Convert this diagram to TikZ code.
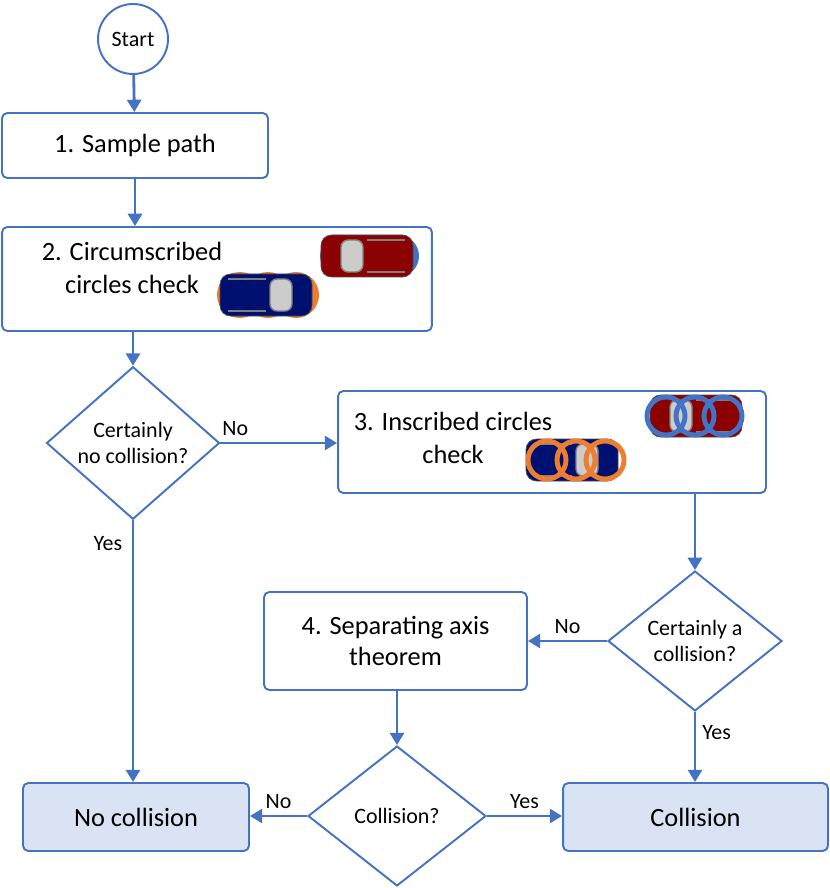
\documentclass[tikz,border=0pt]{standalone}
\usepackage{fontspec}
\setmainfont{Carlito}
\usetikzlibrary{shapes.geometric,arrows.meta}
\definecolor{flowblue}{HTML}{4472C4}
\definecolor{boxfill}{HTML}{DAE3F3}
\definecolor{carred}{HTML}{8B0000}
\definecolor{carblue}{HTML}{001070}
\definecolor{ringorange}{HTML}{ED7D31}
\tikzset{
  stage/.style={rectangle, rounded corners=3pt, draw=flowblue, line width=1.1pt, fill=white, font=\fontsize{15}{18}\selectfont},
  result/.style={stage, fill=boxfill},
  test/.style={diamond, draw=flowblue, line width=1.1pt, fill=white, inner sep=0pt, align=center, font=\fontsize{12.5}{15}\selectfont},
  flow/.style={-{Triangle[length=7pt,width=8pt]}, draw=flowblue, line width=1.6pt},
  tag/.style={font=\fontsize{12.5}{15}\selectfont}
}
% car seen from above: centre x, centre y, body colour, +1 = front right / -1 = front left
\newcommand{\carpic}[4]{
  \begin{scope}[shift={(#1,#2)}, xscale=#4]
    \fill[#3, draw=black!70, line width=0.4pt, rounded corners=6pt] (-46,-21) rectangle (46,21);
    \fill[black!20, draw=gray, line width=0.8pt, rounded corners=4pt] (4,-16) rectangle (26,16);
    \draw[gray, line width=0.8pt] (-38,-16) -- (0,-16) (-38,16) -- (0,16);
  \end{scope}
}
\begin{document}
\begin{tikzpicture}[x=0.02cm, y=-0.02cm]
\useasboundingbox (0,0) rectangle (830,888);

\node[circle, draw=flowblue, line width=1.1pt, minimum size=1.4cm, font=\fontsize{12.5}{15}\selectfont] (start) at (133,39) {Start};
\node[stage, minimum width=5.32cm, minimum height=1.3cm] (sample) at (135,145.5) {1. Sample path};
\node[stage, minimum width=8.6cm, minimum height=2.08cm] (circum) at (217,279) {};
\node[align=center, font=\fontsize{15}{19}\selectfont] (circumtxt) at (132,268) {2. Circumscribed\\circles check};
\node[test, minimum width=3.46cm, minimum height=2.78cm] (certno) at (133,443) {Certainly\\no collision?};
\node[stage, minimum width=8.56cm, minimum height=2.04cm] (inscr) at (552,442) {};
\node[align=center, font=\fontsize{15}{19}\selectfont] (inscrtxt) at (453,438) {3. Inscribed circles\\check};
\node[test, minimum width=3.48cm, minimum height=2.8cm] (certyes) at (695,641) {Certainly a\\collision?};
\node[stage, minimum width=5.26cm, minimum height=1.96cm, align=center] (sat) at (395.5,641) {4. Separating axis\\theorem};
\node[test, minimum width=3.56cm, minimum height=2.8cm] (coll) at (397,816) {Collision?};
\node[result, minimum width=4.52cm, minimum height=1.36cm] (nocollres) at (136,817) {No collision};
\node[result, minimum width=5.3cm, minimum height=1.36cm] (collres) at (695.5,817) {Collision};

% cars in box 2
\foreach \cx in {341,370,398} \fill[flowblue] (\cx,256) circle (21);
\carpic{367}{256}{carred}{-1}
\foreach \cx in {240,268,296} \fill[ringorange] (\cx,295) circle (23);
\carpic{266}{295}{carblue}{1}

% cars in box 3
\carpic{696}{416}{carred}{-1}
\foreach \cx in {666,695,723} \draw[flowblue, line width=2.8pt] (\cx,416) circle (19);
\carpic{572}{460}{carblue}{1}
\foreach \cx in {547,576,605} \draw[ringorange, line width=2.8pt] (\cx,460) circle (19);

\draw[flow] (start) -- (sample);
\draw[flow] (sample) -- (sample |- circum.north);
\draw[flow] (circum.south -| certno) -- (certno);
\draw[flow] (certno.east) -- node[tag, above left, pos=0.3] {No} (inscr.west |- certno.east);
\draw[flow] (certno.south) -- node[tag, pos=0.09, left, xshift=-2pt] {Yes} (nocollres.north -| certno);
\draw[flow] (inscr.south -| certyes) -- (certyes);
\draw[flow] (certyes.west) -- node[tag, above] {No} (sat.east |- certyes.west);
\draw[flow] (certyes.south) -- node[tag, pos=0.3, right] {Yes} (collres.north -| certyes);
\draw[flow] (sat.south -| coll) -- (coll);
\draw[flow] (coll.west) -- node[tag, above] {No} (nocollres.east |- coll.west);
\draw[flow] (coll.east) -- node[tag, above] {Yes} (collres.west |- coll.east);
\end{tikzpicture}
\end{document}
